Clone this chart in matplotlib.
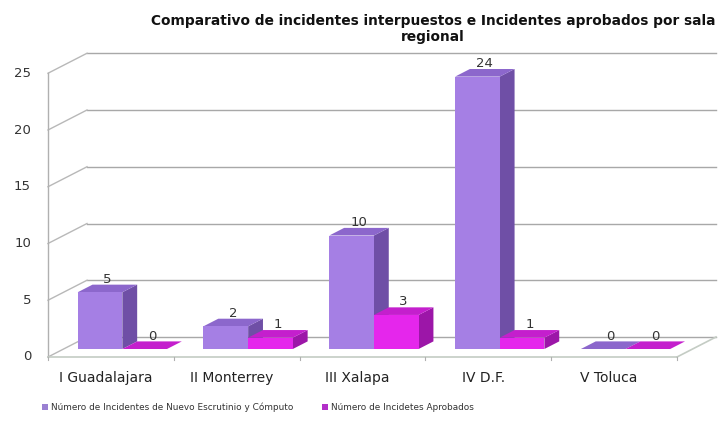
import matplotlib
matplotlib.use("Agg")
import matplotlib.pyplot as plt
from matplotlib.patches import Polygon, Rectangle

plt.rcParams["font.family"] = ["DejaVu Sans"]

# ---- data ----
salas = ["I Guadalajara", "II Monterrey", "III Xalapa", "IV D.F.", "V Toluca"]
interpuestos = [5, 2, 10, 24, 0]
aprobados = [0, 1, 3, 1, 0]
serie_nombres = ["Número de Incidentes de Nuevo Escrutinio y Cómputo",
                 "Número de Incidetes Aprobados"]
y_ticks = [0, 5, 10, 15, 20, 25]
titulo = "Comparativo de incidentes interpuestos e Incidentes aprobados por sala\nregional"

# ---- pseudo-3D styling ----
PX_CAT = 125.8          # pixels per category
PX_VAL = 11.35          # pixels per unit of value
ORIGIN = (48, 357)      # pixel position of the front-left floor corner (from top-left)
W, H = 728, 430
DX = 39 / PX_CAT        # full wall depth, horizontal component (category units)
DY = 20 / PX_VAL        # full wall depth, vertical component (value units)
F0, F1 = 0.40, 0.78     # depth range occupied by the bars
BAR_W = 0.355
OFFSETS = [0.112, 0.467]

colors = [
    dict(front="#A57FE4", side="#6F4FA6", top="#8C67CC", legend="#9A80D2"),
    dict(front="#E526EC", side="#9C16A8", top="#C41FCD", legend="#B22FC8"),
]

fig = plt.figure(figsize=(W / 100, H / 100), dpi=100)
ax = fig.add_axes([0, 0, 1, 1])
ax.set_xlim(-ORIGIN[0] / PX_CAT, (W - ORIGIN[0]) / PX_CAT)
ax.set_ylim(-(H - ORIGIN[1]) / PX_VAL, ORIGIN[1] / PX_VAL)
ax.axis("off")

n = len(salas)
grid_c = "#A8A8A8"
ymax = y_ticks[-1]

# back wall gridlines and left wall diagonals
for v in y_ticks:
    ax.plot([DX, n + DX], [v + DY, v + DY], color=grid_c, lw=1.0, zorder=1)
    ax.plot([0, DX], [v, v + DY], color="#B8B8B8", lw=1.0, zorder=1)
    ax.text(-17 / PX_CAT, v, str(v), ha="right", va="center",
            fontsize=9.5, color="#333333")
# front vertical axis
ax.plot([0, 0], [0, ymax], color="#B0B0B0", lw=1.0, zorder=1)
# floor front and right edges
ax.plot([0, n], [0, 0], color="#C4CCC4", lw=1.2, zorder=1)
ax.plot([n, n + DX], [0, DY], color="#C4CCC4", lw=1.2, zorder=1)
for i in range(n + 1):
    ax.plot([i, i], [0, -0.3], color="#B0B0B0", lw=0.8, zorder=1)

# category labels
for i, s in enumerate(salas):
    ax.text(i + 0.46, -1.85, s, ha="center", va="center", fontsize=10, color="#222222")


def draw_bar(x0, v, col, z):
    bx = x0 + F0 * DX
    by = F0 * DY
    ddx = (F1 - F0) * DX
    ddy = (F1 - F0) * DY
    side = [(bx + BAR_W, by), (bx + BAR_W + ddx, by + ddy),
            (bx + BAR_W + ddx, by + ddy + v), (bx + BAR_W, by + v)]
    top = [(bx, by + v), (bx + BAR_W, by + v),
           (bx + BAR_W + ddx, by + v + ddy), (bx + ddx, by + v + ddy)]
    ax.add_patch(Polygon(side, closed=True, facecolor=col["side"], edgecolor="none", zorder=z))
    ax.add_patch(Polygon(top, closed=True, facecolor=col["top"], edgecolor="none", zorder=z))
    ax.add_patch(Rectangle((bx, by), BAR_W, v, facecolor=col["front"], edgecolor="none", zorder=z))


z = 2
for i in range(n):
    for k, vals in enumerate([interpuestos, aprobados]):
        x0 = i + OFFSETS[k]
        v = vals[i]
        draw_bar(x0, v, colors[k], z)
        z += 1
        cx = x0 + BAR_W / 2 + (F0 + F1) / 2 * DX
        ax.text(cx, v + F1 * DY - 0.1, str(v), ha="center", va="bottom",
                fontsize=9.5, color="#333333", zorder=50)

# title
fig.text(433 / W, 1 - 14 / H, titulo, ha="center", va="top", fontsize=9.9,
         fontweight="bold", color="#111111", linespacing=1.2)

# legend
leg_x = [45, 325]
for k, name in enumerate(serie_nombres):
    fig.patches.append(Rectangle(((leg_x[k] - 3) / W, 1 - 410 / H), 6 / W, 6 / H,
                                 transform=fig.transFigure, facecolor=colors[k]["legend"],
                                 edgecolor="none"))
    fig.text((leg_x[k] + 6) / W, 1 - 407 / H, name, ha="left", va="center",
             fontsize=6.4, color="#333333")

fig.savefig("out.png", dpi=100, facecolor="white")
